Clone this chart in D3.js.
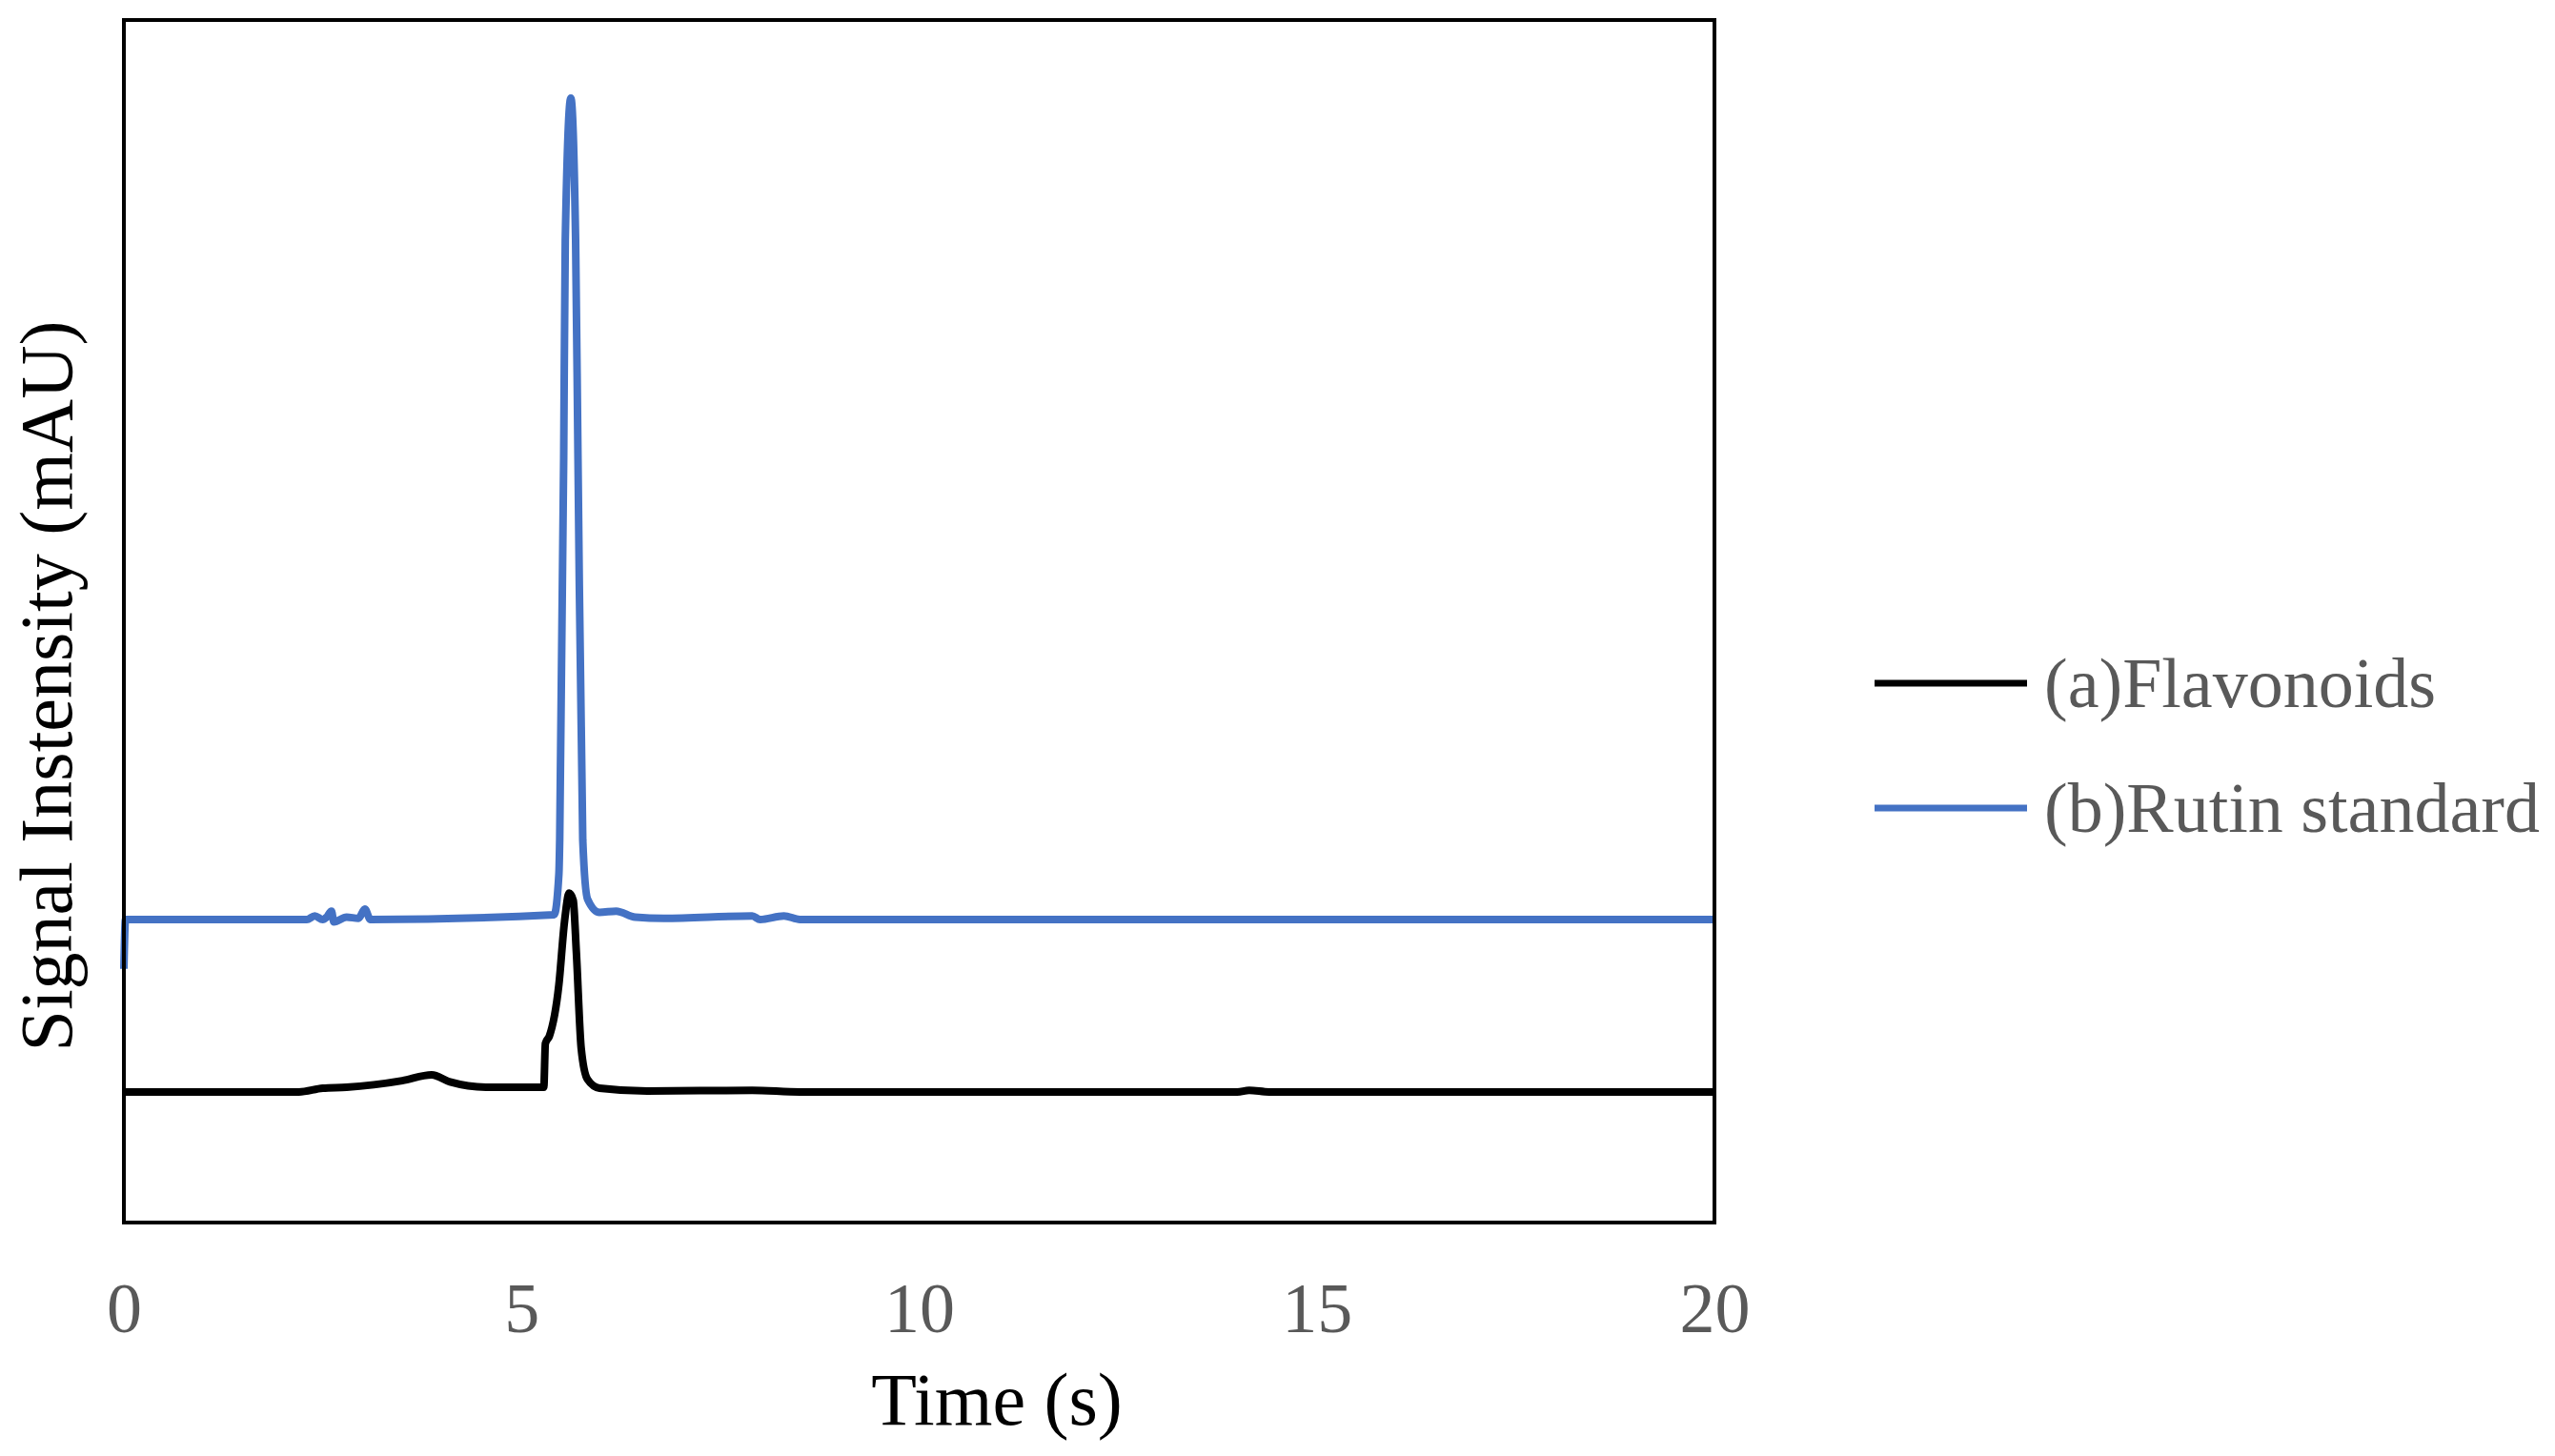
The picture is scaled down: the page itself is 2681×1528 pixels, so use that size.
<!DOCTYPE html>
<html><head><meta charset="utf-8">
<script src="https://cdn.jsdelivr.net/npm/d3@7"></script>
<style>body{margin:0;background:#fff}svg{display:block}</style>
</head><body>
<script>
const seriesNames = ["(a)Flavonoids", "(b)Rutin standard"];
const seriesColors = ["#000000", "#4472C4"];
const xTicks = [0, 5, 10, 15, 20];
const flavT = [0,2.2,2.5,2.8,3.5,3.87,4.1,4.58,5.28,5.30,5.35,5.47,5.54,5.60,5.65,5.69,5.75,5.83,5.98,6.58,7.9,8.5,14.0,14.15,14.4,20];
const flavV = [108.6,108.6,111.7,112.5,118,122.8,117,112.5,112.5,149,155,198,250,274,268,224,145,119,111.7,109.3,110,108.6,108.6,110,108.6,108.6];
const rutT = [0,0.02,2.3,2.4,2.5,2.55,2.61,2.64,2.8,2.95,3.03,3.1,5.41,5.47,5.48,5.53,5.55,5.62,5.68,5.71,5.77,5.83,5.98,6.19,6.43,6.79,7.9,8.0,8.3,8.5,20];
const rutV = [211,252,252,255,252,254,259,250,254,253,260.7,252,256,290,318,635,817,935,817,635,318,269,258,259,254,253,255,252,255,252,252];

const W = 2681, H = 1528;
const L = 130, R = 1799, T = 21, B = 1283;
const svg = d3.select("body").append("svg").attr("width", W).attr("height", H);
const x = d3.scaleLinear().domain([0, 20]).range([L, R]);
const y = d3.scaleLinear().domain([0, 1000]).range([B, T]);
const font = "'Liberation Serif','Times New Roman',serif";

const line = d3.line().x(d => x(d[0])).y(d => y(d[1])).curve(d3.curveMonotoneX);
const data = [d3.zip(flavT, flavV), d3.zip(rutT, rutV)];
[1, 0].forEach(i => {
  svg.append("path").datum(data[i]).attr("d", line).attr("fill", "none")
    .attr("stroke", seriesColors[i]).attr("stroke-width", 8).attr("stroke-linejoin", "round");
});
svg.append("rect").attr("x", L).attr("y", T).attr("width", R - L).attr("height", B - T)
  .attr("fill", "none").attr("stroke", "#000").attr("stroke-width", 4);

const ax = svg.append("g").attr("transform", `translate(0,${B})`)
  .call(d3.axisBottom(x).tickValues(xTicks).tickSize(0).tickPadding(0));
ax.select(".domain").remove();
ax.selectAll("text").attr("y", 115).attr("dy", 0).attr("font-family", font)
  .attr("font-size", 74).attr("fill", "#595959");

svg.append("text").attr("x", 1046).attr("y", 1495).attr("text-anchor", "middle")
  .attr("font-family", font).attr("font-size", 78).attr("fill", "#000").text("Time (s)");
svg.append("text").attr("transform", `translate(75,720) rotate(-90)`)
  .attr("text-anchor", "middle").attr("font-family", font).attr("font-size", 78)
  .attr("fill", "#000").text("Signal Instensity (mAU)");

const lg = svg.append("g");
seriesNames.forEach((n, i) => {
  const yy = 717 + i * 131;
  lg.append("line").attr("x1", 1967).attr("x2", 2127).attr("y1", yy).attr("y2", yy)
    .attr("stroke", seriesColors[i]).attr("stroke-width", 7);
  lg.append("text").attr("x", 2145).attr("y", yy + 25).attr("font-family", font)
    .attr("font-size", 74).attr("fill", "#595959").text(n);
});
</script>
</body></html>
